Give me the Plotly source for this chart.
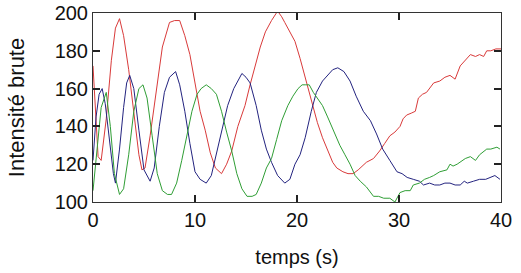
import plotly.graph_objects as go

red_t = [0, 0.5, 0.8, 1.3, 1.8, 2.2, 2.6, 3.0, 3.5, 4.0, 4.5, 4.8, 5.1, 5.6, 6.2, 6.8, 7.5, 8.0, 8.5, 9.0,
         9.5, 10.0, 10.5, 11.0, 11.5, 12.0, 12.6, 13.1, 13.6, 14.2, 14.9, 15.4, 15.9, 16.4, 16.9, 17.5, 18.1,
         18.5, 18.8, 19.3, 19.8, 20.3, 20.8, 21.2, 21.6, 22.0, 22.5, 23.0, 23.5, 23.9, 24.5, 25.0, 25.5, 26.0,
         26.8, 27.5, 28.1, 28.6, 29.1, 29.6, 30.1, 30.4, 30.75, 31.2, 31.6, 31.9, 32.3, 32.7, 33.0, 33.4, 34.0,
         34.5, 35.0, 35.5, 36.0, 36.5, 37.0, 37.5, 37.9, 38.3, 38.6, 39.0, 39.5, 40.0]
red_v = [172, 124, 122, 144, 175, 192, 197, 188, 170, 148, 125, 117, 118, 135, 160, 182, 195, 196, 196, 188,
         178, 164, 148, 138, 126, 118, 115, 120, 127, 140, 151, 162, 172, 182, 190, 196, 201,
         198, 195, 190, 185, 176, 166, 158, 151, 142, 134, 127, 121, 118, 116, 115, 115, 117,
         121, 123, 127, 131, 135, 137, 140, 144, 146, 147, 148, 155, 157, 158, 160, 163, 164,
         166, 167, 165, 172, 175, 178, 177, 178, 177, 180, 180, 181, 181]

blue_t = [0, 0.3, 0.6, 0.9, 1.2, 1.6, 2.0, 2.2, 2.6, 3.0, 3.3, 3.6, 4.0, 4.5, 5.0, 5.6, 6.0, 6.5, 7.0, 7.5,
          8.1, 8.5, 9.0, 9.5, 10.0, 10.5, 11.1, 11.6, 12.2, 12.7, 13.2, 13.8, 14.6, 15.0, 15.4, 16.0, 16.5,
          17.0, 17.5, 18.1, 18.8, 19.3, 19.8, 20.3, 20.8, 21.4, 21.9, 22.5, 23.0, 23.5, 24.0, 24.6, 25.2,
          25.8, 26.5, 27.2, 27.8, 28.4, 29.1, 29.8, 30.3, 30.8, 31.4, 32.0, 32.4, 33.0, 33.5, 34.0, 34.5,
          35.0, 35.5, 36.0, 36.4, 36.7, 37.3, 37.9, 38.5, 39.0, 39.4, 39.9]
blue_v = [122, 145, 157, 160, 152, 132, 115, 110, 128, 150, 163, 167, 160, 138, 117, 111, 118, 140, 158, 166,
          169, 162, 148, 131, 116, 112, 110, 114, 128, 140, 151, 160, 168, 166, 163, 151, 138,
          128, 121, 114, 110, 112, 120, 125, 134, 148, 158, 164, 167, 170, 171, 169, 164,
          156, 148, 143, 136, 128, 122, 116, 115, 113, 112, 111, 109, 110, 109, 109, 110,
          110, 109, 109, 111, 110, 111, 112, 112, 113, 114, 112]

green_t = [0, 0.4, 0.8, 1.3, 1.7, 2.1, 2.6, 3.0, 3.5, 4.0, 4.5, 4.9, 5.3, 5.8, 6.3, 6.8, 7.3, 7.7, 8.2, 8.7,
           9.2, 9.7, 10.2, 10.6, 11.1, 11.6, 12.1, 12.6, 13.1, 13.6, 14.1, 14.6, 15.1, 15.6, 16.0, 16.5,
           17.0, 17.5, 18.0, 18.5, 19.1, 19.6, 20.1, 20.5, 20.8, 21.2, 21.6, 22.0, 22.5, 23.0, 23.5, 24.2,
           24.7, 25.2, 25.7, 26.2, 26.8, 27.5, 28.0, 28.5, 29.1, 29.6, 30.1, 30.6, 31.1, 31.4, 32.0, 32.5,
           33.0, 33.4, 34.0, 34.7, 35.0, 35.3, 35.7, 36.0, 36.5, 37.0, 37.5, 37.9, 38.3, 38.6, 39.0, 39.6, 39.9]
green_v = [106, 128, 150, 158, 140, 115, 104, 107, 125, 148, 160, 162, 155, 135, 115, 106, 104, 104, 110, 122,
           135, 148, 157, 160, 162, 160, 157, 148, 137, 127, 115, 107, 103, 103, 104, 110,
           118, 123, 133, 143, 151, 156, 160, 162, 162, 162, 158, 155, 151, 145, 139, 130,
           125, 120, 114, 111, 108, 103, 103, 102, 102, 100, 105, 106, 106, 109, 110, 112,
           113, 114, 116, 117, 120, 119, 120, 121, 123, 124, 122, 125, 127, 128, 128, 129, 128]

x_ticks = [0, 10, 20, 30, 40]
y_ticks = [100, 120, 140, 160, 180, 200]

FONT = "Liberation Sans, Arial, sans-serif"

fig = go.Figure()
for t, v, c in [(red_t, red_v, "#d93a3a"), (blue_t, blue_v, "#23237f"), (green_t, green_v, "#2f9e35")]:
    fig.add_trace(go.Scatter(x=t, y=v, mode="lines", line=dict(color=c, width=1), showlegend=False))

axis_common = dict(showline=True, linecolor="#333333", linewidth=1, mirror="ticks", ticks="inside",
                   ticklen=7, tickwidth=1.5, tickcolor="#222222", showgrid=False, zeroline=False,
                   automargin=False, tickfont=dict(family=FONT, size=20, color="#111111"))
fig.update_xaxes(range=[0, 40], tickvals=x_ticks, ticktext=[str(v) for v in x_ticks],
                 title=dict(text="temps (s)", font=dict(family=FONT, size=20, color="#111111"), standoff=19),
                 **axis_common)
fig.update_yaxes(range=[100, 200], tickvals=y_ticks, ticktext=[str(v) for v in y_ticks],
                 title=dict(text="Intensité brute", font=dict(family=FONT, size=22, color="#111111"), standoff=23),
                 **axis_common)
fig.update_layout(width=521, height=273, margin=dict(l=93, r=20, t=13, b=71),
                  plot_bgcolor="white", paper_bgcolor="white")
fig.write_html("out.html")
